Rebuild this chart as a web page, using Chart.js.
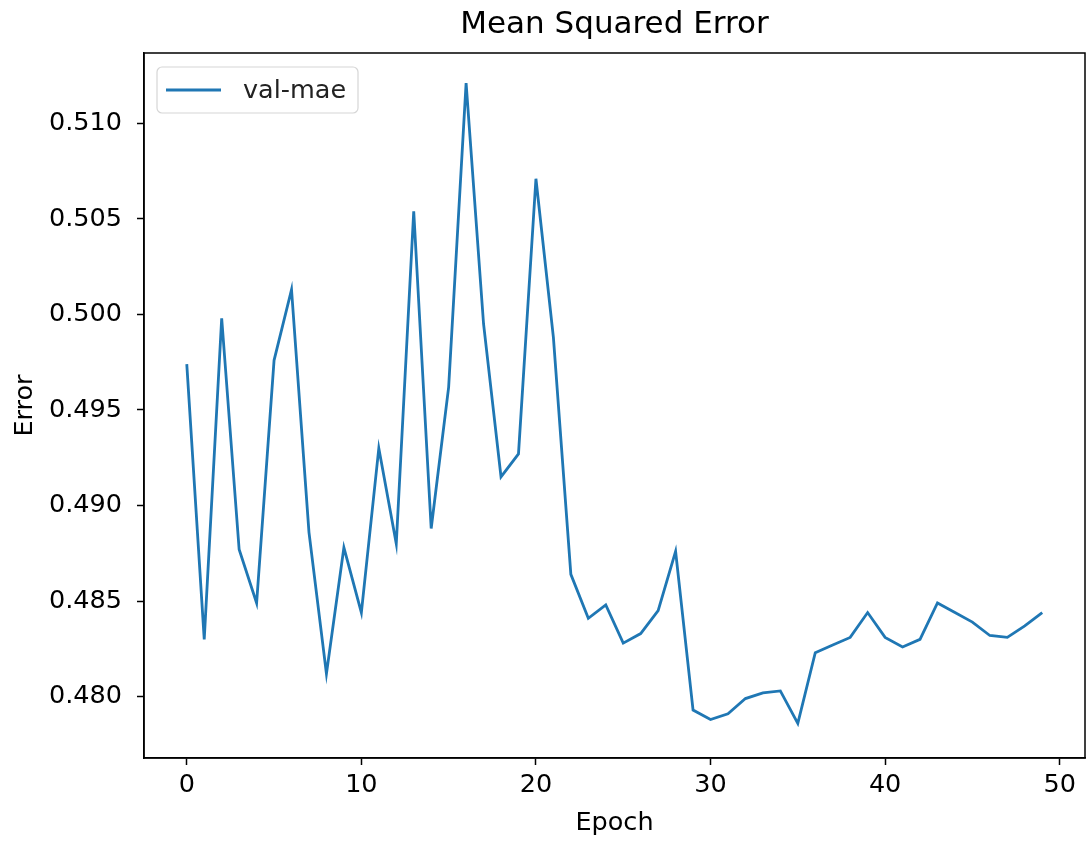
<!DOCTYPE html>
<html>
<head>
<meta charset="utf-8">
<script src="https://cdn.jsdelivr.net/npm/chart.js@4/dist/chart.umd.min.js"></script>
<style>
  html, body { margin: 0; padding: 0; background: #fff; }
  #wrap { width: 1086px; height: 841px; position: relative; }
</style>
</head>
<body>
<div id="wrap"><canvas id="chart"></canvas></div>
<script>
// values
var epochs = [];
for (var i = 0; i < 50; i++) epochs.push(i);
var valMae = [
  0.4974, 0.4830, 0.4998, 0.4877, 0.4849, 0.4976, 0.5013, 0.4886, 0.4812, 0.4878,
  0.4844, 0.4930, 0.4880, 0.5054, 0.4888, 0.4962, 0.5121, 0.4995, 0.4915, 0.4927,
  0.5071, 0.4988, 0.4864, 0.4841, 0.4848, 0.4828, 0.4833, 0.4845, 0.4876, 0.4793,
  0.4788, 0.4791, 0.4799, 0.4802, 0.4803, 0.4786, 0.4823, 0.4827, 0.4831, 0.4844,
  0.4831, 0.4826, 0.4830, 0.4849, 0.4844, 0.4839, 0.4832, 0.4831, 0.4837, 0.4844
];
var xTicks = [0, 10, 20, 30, 40, 50];
var yTicks = [0.480, 0.485, 0.490, 0.495, 0.500, 0.505, 0.510];
var seriesName = 'val-mae';
var lineColor = '#1f77b4';
var FONT = '"DejaVu Sans", sans-serif';
var TXT = 25.5;

var points = epochs.map(function (e, k) { return { x: e, y: valMae[k] }; });

// matplotlib-like frame around the plot area
var framePlugin = {
  id: 'frame',
  afterDraw: function (chart) {
    var a = chart.chartArea, ctx = chart.ctx;
    ctx.save();
    ctx.strokeStyle = '#000';
    ctx.lineWidth = 1.5;
    ctx.strokeRect(a.left, a.top, a.right - a.left, a.bottom - a.top);
    ctx.restore();
  }
};

// legend box drawn inside the upper-left corner of the plot
var insideLegend = {
  id: 'insideLegend',
  afterDraw: function (chart) {
    var a = chart.chartArea, ctx = chart.ctx;
    var ds = chart.data.datasets[0];
    var bx = a.left + 13, by = a.top + 14, bw = 201, bh = 46;
    ctx.save();
    ctx.fillStyle = 'rgba(255,255,255,0.8)';
    ctx.strokeStyle = '#d6d6d6';
    ctx.lineWidth = 1.2;
    ctx.beginPath();
    ctx.roundRect(bx, by, bw, bh, 5);
    ctx.fill();
    ctx.stroke();
    ctx.strokeStyle = ds.borderColor;
    ctx.lineWidth = ds.borderWidth;
    ctx.beginPath();
    ctx.moveTo(bx + 9, by + bh / 2);
    ctx.lineTo(bx + 64, by + bh / 2);
    ctx.stroke();
    ctx.fillStyle = '#222';
    ctx.font = TXT + 'px ' + FONT;
    ctx.textBaseline = 'middle';
    ctx.textAlign = 'left';
    ctx.fillText(ds.label, bx + 86, by + bh / 2 + 1);
    ctx.restore();
  }
};

new Chart(document.getElementById('chart'), {
  type: 'line',
  data: {
    datasets: [{
      label: seriesName,
      data: points,
      borderColor: lineColor,
      backgroundColor: lineColor,
      borderWidth: 2.8,
      pointRadius: 0,
      tension: 0,
      fill: false
    }]
  },
  options: {
    responsive: true,
    maintainAspectRatio: false,
    animation: false,
    layout: { padding: { right: 1 } },
    plugins: {
      legend: { display: false },
      tooltip: { enabled: false },
      title: {
        display: true,
        text: 'Mean Squared Error',
        fullSize: false,
        color: '#000',
        font: { family: FONT, size: 31, weight: 'normal', lineHeight: 1.2 },
        padding: { top: 6, bottom: 9.8 }
      }
    },
    scales: {
      x: {
        type: 'linear',
        min: -2.45,
        max: 51.45,
        afterBuildTicks: function (s) { s.ticks = xTicks.map(function (v) { return { value: v }; }); },
        afterFit: function (s) { s.height = 83; },
        grid: { drawOnChartArea: false, drawTicks: true, tickLength: 7, tickColor: '#000', tickWidth: 1.5 },
        border: { display: true, color: '#000', width: 1.5 },
        ticks: {
          color: '#000',
          padding: 5,
          maxRotation: 0,
          font: { family: FONT, size: TXT },
          callback: function (v) { return String(v); }
        },
        title: {
          display: true,
          text: 'Epoch',
          color: '#000',
          font: { family: FONT, size: TXT, lineHeight: 1.2 },
          padding: { top: 0, bottom: 2 }
        }
      },
      y: {
        type: 'linear',
        min: 0.47679,
        max: 0.51368,
        afterBuildTicks: function (s) { s.ticks = yTicks.map(function (v) { return { value: v }; }); },
        afterFit: function (s) { s.width = 144; },
        grid: { drawOnChartArea: false, drawTicks: true, tickLength: 7, tickColor: '#000', tickWidth: 1.5 },
        border: { display: true, color: '#000', width: 1.5 },
        ticks: {
          color: '#000',
          padding: 15,
          font: { family: FONT, size: TXT },
          callback: function (v) { return Number(v).toFixed(3); }
        },
        title: {
          display: true,
          text: 'Error',
          color: '#000',
          font: { family: FONT, size: TXT, lineHeight: 1.2 },
          padding: { top: 10, bottom: 0 }
        }
      }
    }
  },
  plugins: [framePlugin, insideLegend]
});
</script>
</body>
</html>
